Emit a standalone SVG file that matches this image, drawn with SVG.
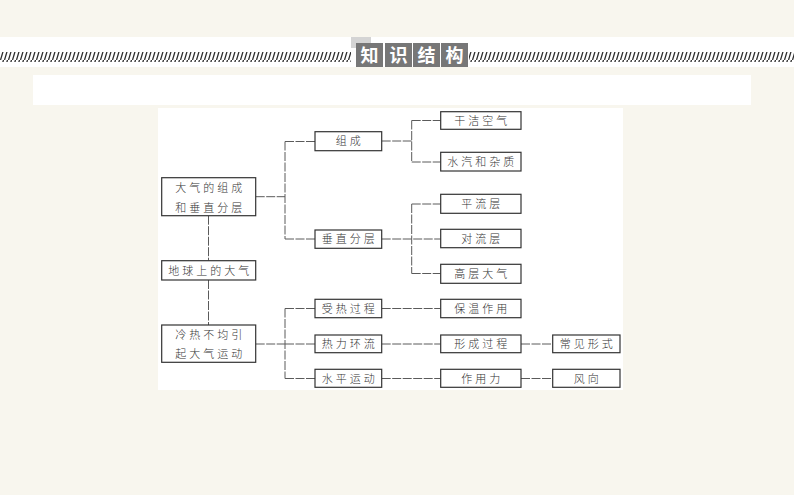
<svg xmlns="http://www.w3.org/2000/svg" width="794" height="495" viewBox="0 0 794 495">
<defs>
<pattern id="hatch" x="0" y="0" width="4" height="10" patternUnits="userSpaceOnUse">
<line x1="0.5" y1="10" x2="3.5" y2="0" stroke="#2a2a2a" stroke-width="1.3"/>
</pattern>
<style>
.box{fill:#fff;stroke:#333;stroke-width:1.2}
.t{font-family:"Noto Sans CJK SC","Noto Sans CJK JP",sans-serif;font-size:11px;fill:#333;letter-spacing:3px;text-anchor:middle;font-weight:300}
.tt{font-family:"Noto Sans CJK SC",sans-serif;font-size:18px;fill:#fff;font-weight:bold;text-anchor:middle}
.tb{fill:#777}
.c{fill:none;stroke:#5a5a5a;stroke-width:1;stroke-dasharray:9 1.5}
</style>
</defs>
<rect width="794" height="495" fill="#f8f6ee"/>
<rect x="0" y="37" width="794" height="30" fill="#fff"/>
<rect x="0" y="52" width="351" height="10" fill="url(#hatch)"/>
<rect x="469" y="52" width="325" height="10" fill="url(#hatch)"/>
<rect x="351" y="37" width="20" height="11" fill="#d4d4d4"/>
<g id="title">
<rect class="tb" x="356" y="43" width="27" height="24"/>
<rect class="tb" x="385" y="43" width="27" height="24"/>
<rect class="tb" x="413" y="43" width="27" height="24"/>
<rect class="tb" x="441" y="43" width="27" height="24"/>
<text class="tt" x="369.5" y="61.5">知</text>
<text class="tt" x="398.5" y="61.5">识</text>
<text class="tt" x="426.5" y="61.5">结</text>
<text class="tt" x="454.5" y="61.5">构</text>
</g>
<rect x="33" y="75" width="718" height="30" fill="#fff"/>
<rect x="158" y="108" width="465" height="282" fill="#fff"/>
<g id="connectors">
<path class="c" d="M255.7,196.7H285M285,141.5V239M285,141.5H315M285,239H315"/>
<path class="c" d="M381.7,141H411.7M411.7,120.5V162M411.7,120.5H440.7M411.7,162H440.7"/>
<path class="c" d="M381.7,239H440.7M411.7,204V273.5M411.7,204H440.7M411.7,273.5H440.7"/>
<path class="c" d="M208.5,215.7V260.7M208.5,280V325"/>
<path class="c" d="M255.7,344H285M285,308.5V378.5M285,308.5H315M285,344H315M285,378.5H315"/>
<path class="c" d="M381.7,308.5H440.7M381.7,344H440.7M381.7,378.5H440.7M521,344H552.7M521,378.5H552.7"/>
</g>
<g id="n_atm_comp"><rect class="box" x="161.7" y="177.7" width="94" height="38"/><text class="t" x="210.2" y="191.5">大气的组成</text><text class="t" x="210.2" y="211.5">和垂直分层</text></g>
<g id="n_earth"><rect class="box" x="161.7" y="260.7" width="94" height="19.3"/><text class="t" x="210.2" y="274.5">地球上的大气</text></g>
<g id="n_motion"><rect class="box" x="161.7" y="325" width="94" height="37.3"/><text class="t" x="210.2" y="338.5">冷热不均引</text><text class="t" x="210.2" y="358">起大气运动</text></g>
<g id="n_zucheng"><rect class="box" x="315" y="131.7" width="66.7" height="19"/><text class="t" x="349.8" y="145.3">组成</text></g>
<g id="n_chuizhi"><rect class="box" x="315" y="230" width="66.7" height="18.3"/><text class="t" x="349.8" y="243.3">垂直分层</text></g>
<g id="n_shourer"><rect class="box" x="315" y="299.3" width="66.7" height="18.4"/><text class="t" x="349.8" y="312.7">受热过程</text></g>
<g id="n_reli"><rect class="box" x="315" y="335" width="66.7" height="17.7"/><text class="t" x="349.8" y="348">热力环流</text></g>
<g id="n_shuiping"><rect class="box" x="315" y="369.3" width="66.7" height="18"/><text class="t" x="349.8" y="382.5">水平运动</text></g>
<g id="n_ganjie"><rect class="box" x="440.7" y="111.7" width="80.3" height="17.6"/><text class="t" x="482.3" y="124.7">干洁空气</text></g>
<g id="n_shuiqi"><rect class="box" x="440.7" y="152.3" width="80.3" height="18.7"/><text class="t" x="482.3" y="165.8">水汽和杂质</text></g>
<g id="n_pingliu"><rect class="box" x="440.7" y="194.3" width="80.3" height="19"/><text class="t" x="482.3" y="208">平流层</text></g>
<g id="n_duiliu"><rect class="box" x="440.7" y="229.3" width="80.3" height="18.4"/><text class="t" x="482.3" y="242.7">对流层</text></g>
<g id="n_gaoceng"><rect class="box" x="440.7" y="264.3" width="80.3" height="19"/><text class="t" x="482.3" y="278">高层大气</text></g>
<g id="n_baowen"><rect class="box" x="440.7" y="299.3" width="80.3" height="18.4"/><text class="t" x="482.3" y="312.7">保温作用</text></g>
<g id="n_xingcheng"><rect class="box" x="440.7" y="335" width="80.3" height="17.7"/><text class="t" x="482.3" y="348">形成过程</text></g>
<g id="n_zuoyongli"><rect class="box" x="440.7" y="369.3" width="80.3" height="18"/><text class="t" x="482.3" y="382.5">作用力</text></g>
<g id="n_changjian"><rect class="box" x="552.7" y="335" width="67.3" height="17.7"/><text class="t" x="587.8" y="348">常见形式</text></g>
<g id="n_fengxiang"><rect class="box" x="552.7" y="369.3" width="67.3" height="18"/><text class="t" x="587.8" y="382.5">风向</text></g>
</svg>
